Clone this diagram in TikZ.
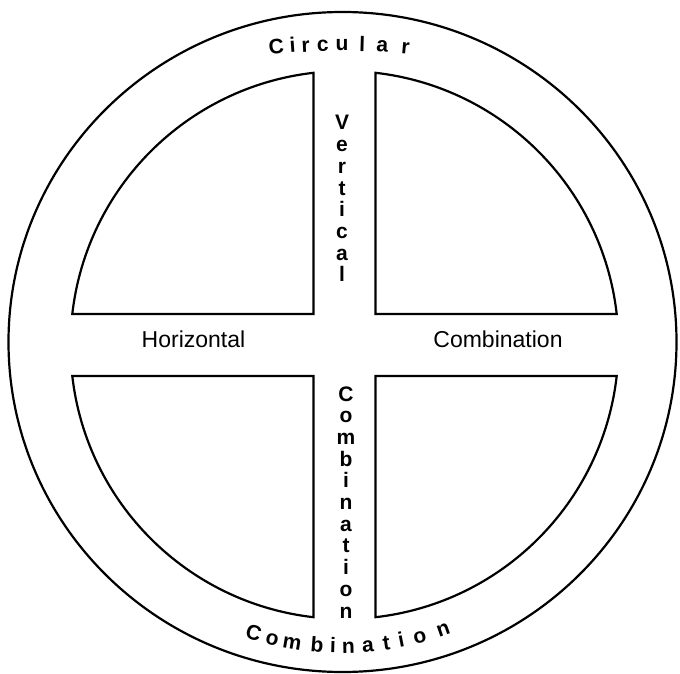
\documentclass[tikz,border=0pt]{standalone}
\usepackage{fontspec}
\setmainfont{Liberation Sans}
\begin{document}
\begin{tikzpicture}[x=1pt,y=1pt,line width=2.2pt,
  lbl/.style={font=\fontsize{23}{23}\selectfont,inner sep=0pt,anchor=base},
  letr/.style={font=\fontsize{21}{21}\selectfont\bfseries,inner sep=0pt,anchor=base},
  quad/.style={draw,line join=miter}]
\useasboundingbox (0,0) rectangle (680,673);
\coordinate (o) at (342.5,331);
\coordinate (c) at (344.5,328);
% outer ring
\draw (o) ellipse [x radius=334pt, y radius=330pt];
% four quadrants
\draw[quad] ([shift={(31pt,31pt)}]c) -- ([shift={(31pt,272.2pt)}]c)
  arc[start angle=83.5,end angle=6.5,radius=274pt] -- cycle;
\draw[quad] ([shift={(-31pt,31pt)}]c) -- ([shift={(-31pt,272.2pt)}]c)
  arc[start angle=96.5,end angle=173.5,radius=274pt] -- cycle;
\draw[quad] ([shift={(-31pt,-31pt)}]c) -- ([shift={(-31pt,-272.2pt)}]c)
  arc[start angle=263.5,end angle=186.5,radius=274pt] -- cycle;
\draw[quad] ([shift={(31pt,-31pt)}]c) -- ([shift={(31pt,-272.2pt)}]c)
  arc[start angle=276.5,end angle=353.5,radius=274pt] -- cycle;
% horizontal labels
\node[lbl] (hor) at (193.5,325) {Horizontal};
\node[lbl] (comr) at (498,325) {Combination};
% stacked Vertical
\foreach \l [count=\i from 0] in {V,e,r,t,i,c,a,l}
  \node[letr] (v\i) at (342,{543-21.7*\i}) {\l};
% stacked Combination
\foreach \l [count=\i from 0] in {C,o,m,b,i,n,a,t,i,o,n}
  \node[letr] (cv\i) at (346,{272-21.7*\i}) {\l};
% Circular along the top
\foreach \l/\x [count=\i] in {C/277,i/293,r/306,c/323,u/342,l/362,a/382,r/405}
  \node[letr,rotate={-atan((\x-342)/700)}] (ct\i) at (\x,{673-51-(\x-342)*(\x-342)/1400}) {\l};
% Combination along the bottom
\foreach \l/\a [count=\i] in {C/-17.0,o/-13.3,m/-9.5,b/-4.8,i/-1.8,n/1.1,a/4.8,t/8.3,i/11.1,o/14.7,n/19.3}
  \node[letr,rotate=\a] (cb\i) at ([shift={(270+\a:311pt)}]o) {\l};
\end{tikzpicture}
\end{document}
